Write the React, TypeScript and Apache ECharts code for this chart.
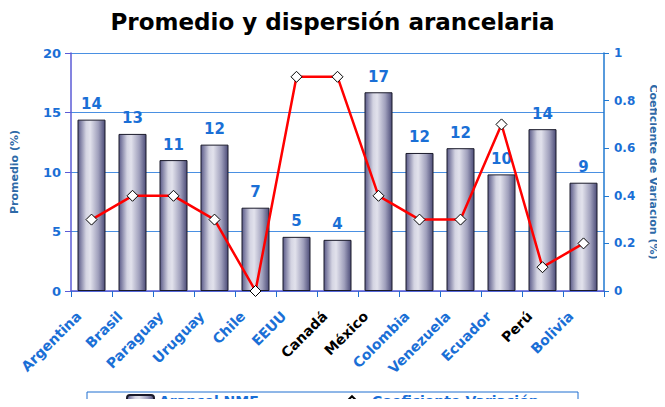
import React, { useEffect, useRef } from "react";
import * as echarts from "echarts";

const categories = ["Argentina", "Brasil", "Paraguay", "Uruguay", "Chile", "EEUU", "Canadá", "México", "Colombia", "Venezuela", "Ecuador", "Perú", "Bolivia"];
const blackLabels = ["Canadá", "México", "Perú"];
const arancelNMF = [14.4, 13.2, 11.0, 12.3, 7.0, 4.55, 4.3, 16.7, 11.6, 12.0, 9.8, 13.6, 9.1];
const coefVariacion = [0.3, 0.4, 0.4, 0.3, 0, 0.9, 0.9, 0.4, 0.3, 0.3, 0.7, 0.1, 0.2];

const FONT = "DejaVu Sans";
const BLUE = "#1a6fd6";
const NAME_BLUE = "#2e6aa8";

export default function App() {
  const ref = useRef<HTMLDivElement>(null);
  useEffect(() => {
    if (!ref.current) return;
    const chart = echarts.init(ref.current, undefined, { renderer: "svg" });
    const barColor = new echarts.graphic.LinearGradient(0, 0, 1, 0, [
      { offset: 0, color: "#5a5a88" },
      { offset: 0.3, color: "#d4d4e2" },
      { offset: 0.45, color: "#e2e2ec" },
      { offset: 0.75, color: "#a0a0bc" },
      { offset: 1, color: "#4c4c78" },
    ]);
    const legendText = { fontFamily: FONT, fontWeight: "bold", fontSize: 14, lineHeight: 14, color: BLUE };
    chart.setOption({
      animation: false,
      backgroundColor: "#ffffff",
      title: {
        text: "Promedio y dispersión arancelaria",
        left: "center",
        top: 5,
        textStyle: { fontFamily: FONT, fontWeight: "bold", fontSize: 23, color: "#000" },
      },
      legend: [
        {
          data: ["Arancel NMF"],
          left: 126,
          top: 394,
          padding: 0,
          itemWidth: 27,
          itemHeight: 12,
          textStyle: legendText,
        },
        {
          data: ["Coeficiente Variación"],
          left: 336,
          top: 394,
          padding: 0,
          itemWidth: 30,
          itemHeight: 12,
          textStyle: legendText,
        },
      ],
      graphic: [
        {
          type: "rect",
          shape: { x: 87, y: 392, width: 491, height: 30 },
          style: { fill: "none", stroke: "#1f6fd0", lineWidth: 1 },
          silent: true,
        },
      ],
      grid: { left: 71, right: 61, top: 53, bottom: 116, outerBoundsMode: "none", containLabel: false },
      xAxis: {
        type: "category",
        data: categories.map((c) => ({
          value: c,
          textStyle: { color: blackLabels.includes(c) ? "#000" : BLUE },
        })),
        axisLine: { lineStyle: { color: "#5b5bd6", width: 1.5 } },
        axisTick: { show: true, length: 6, lineStyle: { color: "#1f6fd0" } },
        axisLabel: {
          rotate: 45,
          interval: 0,
          fontFamily: FONT,
          fontWeight: "bold",
          fontSize: 14,
          margin: 10,
          padding: [0, 18, 0, 0],
        },
      },
      yAxis: [
        {
          type: "value",
          min: 0,
          max: 20,
          interval: 5,
          name: "Promedio (%)",
          nameLocation: "middle",
          nameGap: 51,
          nameTextStyle: { fontFamily: FONT, fontWeight: "bold", fontSize: 11, color: NAME_BLUE },
          axisLine: { show: true, lineStyle: { color: "#5b5bd6", width: 1.5 } },
          axisTick: { show: true, length: 6, lineStyle: { color: "#5b5bd6" } },
          axisLabel: { fontFamily: FONT, fontWeight: "bold", fontSize: 13, color: BLUE, margin: 10 },
          splitLine: { show: true, lineStyle: { color: "#4a90e2", width: 1 } },
        },
        {
          type: "value",
          min: 0,
          max: 1,
          interval: 0.2,
          position: "right",
          name: "Coeficiente de Variación (%)",
          nameLocation: "middle",
          nameRotate: -90,
          nameGap: 44,
          nameTextStyle: { fontFamily: FONT, fontWeight: "bold", fontSize: 11, color: NAME_BLUE },
          axisLine: { show: true, lineStyle: { color: "#1f78d1", width: 1.5 } },
          axisTick: { show: true, length: 5, lineStyle: { color: "#1f78d1" } },
          axisLabel: { fontFamily: FONT, fontWeight: "bold", fontSize: 12, color: BLUE, margin: 10 },
          splitLine: { show: false },
        },
      ],
      series: [
        {
          name: "Arancel NMF",
          type: "bar",
          data: arancelNMF,
          barWidth: 28,
          itemStyle: { color: barColor, borderColor: "#1a1a2a", borderWidth: 1 },
          label: {
            show: true,
            position: "top",
            distance: 8,
            formatter: (p: any) => String(Math.round(p.value)),
            fontFamily: FONT,
            fontWeight: "bold",
            fontSize: 15,
            color: BLUE,
          },
          z: 2,
        },
        {
          name: "Coeficiente Variación",
          type: "line",
          yAxisIndex: 1,
          data: coefVariacion,
          symbol: "diamond",
          symbolSize: 11,
          lineStyle: { color: "#ff0000", width: 2.5 },
          itemStyle: { color: "#ffffff", borderColor: "#000000", borderWidth: 1 },
          z: 5,
        },
      ],
    });
    return () => chart.dispose();
  }, []);
  return <div ref={ref} style={{ width: 665, height: 407, margin: -8 }} />;
}
